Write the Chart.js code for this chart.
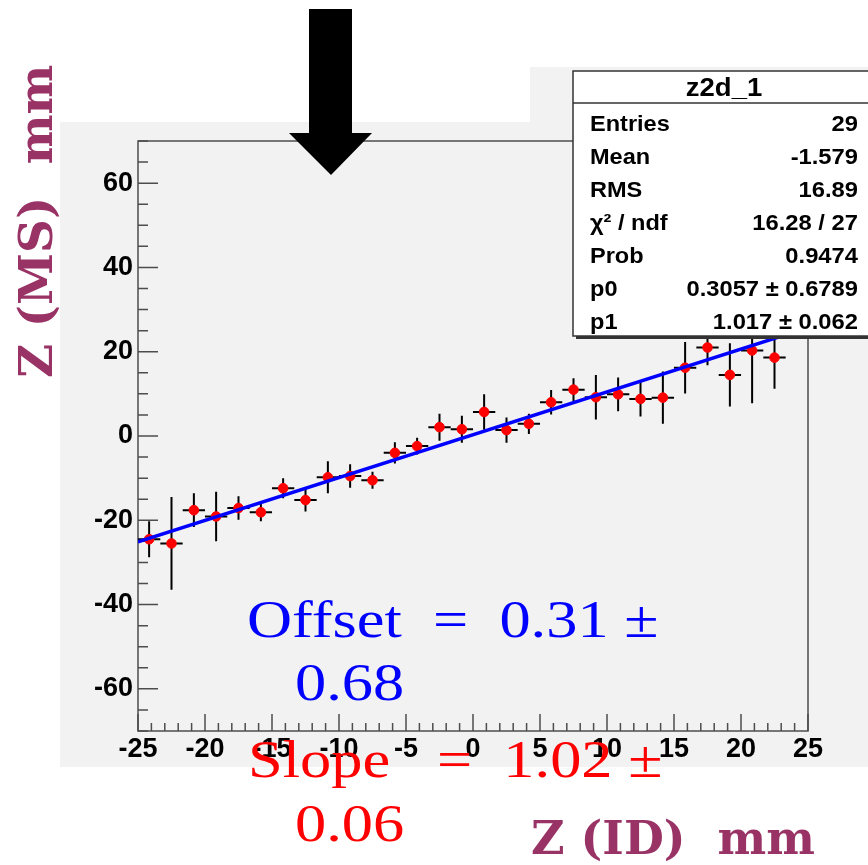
<!DOCTYPE html>
<html>
<head>
<meta charset="utf-8">
<script src="https://cdn.jsdelivr.net/npm/chart.js@4.4.1/dist/chart.umd.min.js"></script>
<style>
  html, body { margin: 0; padding: 0; background: #fff; }
  canvas { display: block; }
</style>
</head>
<body>
<canvas id="chart" width="868" height="865"></canvas>
<script>
// z2d_1 : Z(MS) vs Z(ID), one point per bin
const binCenters = [-24.17, -22.5, -20.83, -19.17, -17.5, -15.83, -14.17, -12.5, -10.83, -9.17,
  -7.5, -5.83, -4.17, -2.5, -0.83, 0.83, 2.5, 4.17, 5.83, 7.5,
  9.17, 10.83, 12.5, 14.17, 15.83, 17.5, 19.17, 20.83, 22.5];
const zMS = [-24.5, -25.5, -17.6, -19.1, -17.1, -18.1, -12.4, -15.2, -9.8, -9.5,
  -10.5, -4.0, -2.4, 2.1, 1.6, 5.7, 1.4, 2.9, 8.0, 11.0,
  9.2, 9.9, 8.8, 9.1, 16.2, 21.0, 14.5, 20.3, 18.6];
const zErr = [4.3, 11.0, 4.0, 5.9, 2.8, 2.1, 2.4, 2.7, 3.8, 2.8,
  2.0, 2.5, 2.0, 3.2, 3.2, 4.2, 3.0, 2.4, 2.9, 2.7,
  5.3, 4.0, 4.2, 6.2, 6.1, 4.2, 7.5, 12.5, 7.4];
const binHalfWidth = 0.833;

const xTickValues = [-25, -20, -15, -10, -5, 0, 5, 10, 15, 20, 25];
const yTickValues = [-60, -40, -20, 0, 20, 40, 60];

// fitted straight line p0 + p1 * x
const fitP0 = 0.3057;
const fitP1 = 1.017;

const statsTitle = "z2d_1";
const statsLabels = ["Entries", "Mean", "RMS", "\u03c7\u00b2 / ndf", "Prob", "p0", "p1"];
const statsValues = ["29", "-1.579", "16.89", "16.28 / 27", "0.9474", "0.3057 \u00b1 0.6789", "1.017 \u00b1 0.062"];

const fitPoints = [
  { x: -25, y: fitP0 + fitP1 * -25 },
  { x: 25, y: fitP0 + fitP1 * 25 }
];
const points = binCenters.map((x, i) => ({ x: x, y: zMS[i] }));

// text drawn with a horizontal stretch, like the original slide
function stretchText(c, text, x, y, sx) {
  c.save();
  c.translate(x, y);
  c.scale(sx, 1);
  c.fillText(text, 0, 0);
  c.restore();
}

const decorations = {
  id: "decorations",
  beforeDraw(chart) {
    const c = chart.ctx;
    c.save();
    c.fillStyle = "#ffffff";
    c.fillRect(0, 0, chart.width, chart.height);
    c.fillStyle = "#f2f2f2";
    c.fillRect(60, 122, 808, 645);
    c.fillRect(530, 67, 338, 60);
    c.restore();
  },
  beforeDatasetsDraw(chart) {
    const c = chart.ctx;
    const a = chart.chartArea;
    const x = chart.scales.x;
    const y = chart.scales.y;
    c.save();
    c.strokeStyle = "#4d4d4d";
    c.lineWidth = 1.5;
    c.beginPath();
    for (let v = -25; v <= 25; v++) {
      const px = x.getPixelForValue(v);
      const len = v % 5 === 0 ? 17 : 8;
      c.moveTo(px, a.bottom);
      c.lineTo(px, a.bottom - len);
    }
    for (let v = -70; v <= 70; v += 5) {
      const py = y.getPixelForValue(v);
      const len = v % 20 === 0 ? 20 : 10;
      c.moveTo(a.left, py);
      c.lineTo(a.left + len, py);
    }
    c.stroke();
    c.strokeRect(a.left, a.top, a.right - a.left, a.bottom - a.top);

    // error bars
    c.strokeStyle = "#000";
    c.lineWidth = 2;
    c.beginPath();
    binCenters.forEach((xc, i) => {
      const px = x.getPixelForValue(xc);
      const py = y.getPixelForValue(zMS[i]);
      c.moveTo(x.getPixelForValue(xc - binHalfWidth), py);
      c.lineTo(x.getPixelForValue(xc + binHalfWidth), py);
      c.moveTo(px, y.getPixelForValue(zMS[i] - zErr[i]));
      c.lineTo(px, y.getPixelForValue(zMS[i] + zErr[i]));
    });
    c.stroke();
    c.restore();
  },
  afterDraw(chart) {
    const c = chart.ctx;
    c.save();

    // big arrow
    c.fillStyle = "#000";
    c.beginPath();
    c.moveTo(309, 9);
    c.lineTo(352, 9);
    c.lineTo(352, 133);
    c.lineTo(372, 133);
    c.lineTo(331, 175);
    c.lineTo(289, 133);
    c.lineTo(309, 133);
    c.closePath();
    c.fill();

    // stats box
    const bx = 573, by = 71, bw = 300, bh = 265;
    c.fillStyle = "#333";
    c.fillRect(bx + 3, by + 3, bw, bh);
    c.fillStyle = "#fff";
    c.fillRect(bx, by, bw, bh);
    c.strokeStyle = "#333";
    c.lineWidth = 1.5;
    c.strokeRect(bx, by, bw, bh);
    c.beginPath();
    c.moveTo(bx, 103);
    c.lineTo(bx + bw, 103);
    c.stroke();

    c.fillStyle = "#000";
    c.textBaseline = "middle";
    c.textAlign = "center";
    c.font = "bold 25px 'Liberation Sans', Arial, sans-serif";
    stretchText(c, statsTitle, 724, 89, 1.1);
    c.font = "bold 22px 'Liberation Sans', Arial, sans-serif";
    statsLabels.forEach((lab, i) => {
      const ty = 125 + 33 * i;
      c.textAlign = "left";
      stretchText(c, lab, 590, ty, 1.07);
      c.textAlign = "right";
      stretchText(c, statsValues[i], 858, ty, 1.08);
    });

    // fit results
    c.textAlign = "left";
    c.textBaseline = "alphabetic";
    c.font = "52px 'Liberation Serif', 'Times New Roman', serif";
    c.fillStyle = "#0000ff";
    stretchText(c, "Offset  =  0.31 \u00b1", 247, 637, 1.2);
    stretchText(c, "0.68", 295, 700, 1.2);
    c.fillStyle = "#ff0000";
    stretchText(c, "Slope   =  1.02 \u00b1", 248, 777, 1.2);
    stretchText(c, "0.06", 295, 841, 1.2);

    // axis titles
    c.fillStyle = "#993366";
    c.font = "bold 46px 'DejaVu Serif', serif";
    c.fillText("Z (ID)  mm", 531, 854);
    c.font = "bold 47px 'DejaVu Serif', serif";
    c.translate(52, 378);
    c.rotate(-Math.PI / 2);
    c.fillText("Z (MS)  mm", 0, 0);
    c.restore();
  }
};

const tickFont = { family: "'Liberation Sans', Arial, sans-serif", size: 27, weight: "bold" };

new Chart(document.getElementById("chart"), {
  type: "scatter",
  data: {
    datasets: [
      {
        type: "line",
        data: fitPoints,
        borderColor: "#0000ff",
        borderWidth: 3.5,
        pointRadius: 0,
        fill: false,
        order: 0
      },
      {
        data: points,
        backgroundColor: "#ff0000",
        borderColor: "#ff0000",
        pointRadius: 4.8,
        order: 1
      }
    ]
  },
  options: {
    responsive: false,
    animation: false,
    devicePixelRatio: 1,
    layout: { padding: { top: 141, right: 60, left: 0, bottom: 0 } },
    plugins: { legend: { display: false }, tooltip: { enabled: false } },
    scales: {
      x: {
        type: "linear",
        min: -25,
        max: 25,
        grid: { display: false, drawTicks: false },
        border: { display: false },
        ticks: { color: "#000", font: tickFont, padding: 2, maxRotation: 0, autoSkip: false },
        afterBuildTicks: (s) => { s.ticks = xTickValues.map(v => ({ value: v })); },
        afterFit: (s) => { s.height = 134; }
      },
      y: {
        type: "linear",
        min: -70,
        max: 70,
        grid: { display: false, drawTicks: false },
        border: { display: false },
        ticks: { color: "#000", font: tickFont, padding: 5, autoSkip: false },
        afterBuildTicks: (s) => { s.ticks = yTickValues.map(v => ({ value: v })); },
        afterFit: (s) => { s.height = undefined; s.width = 138; }
      }
    }
  },
  plugins: [decorations]
});
</script>
</body>
</html>
